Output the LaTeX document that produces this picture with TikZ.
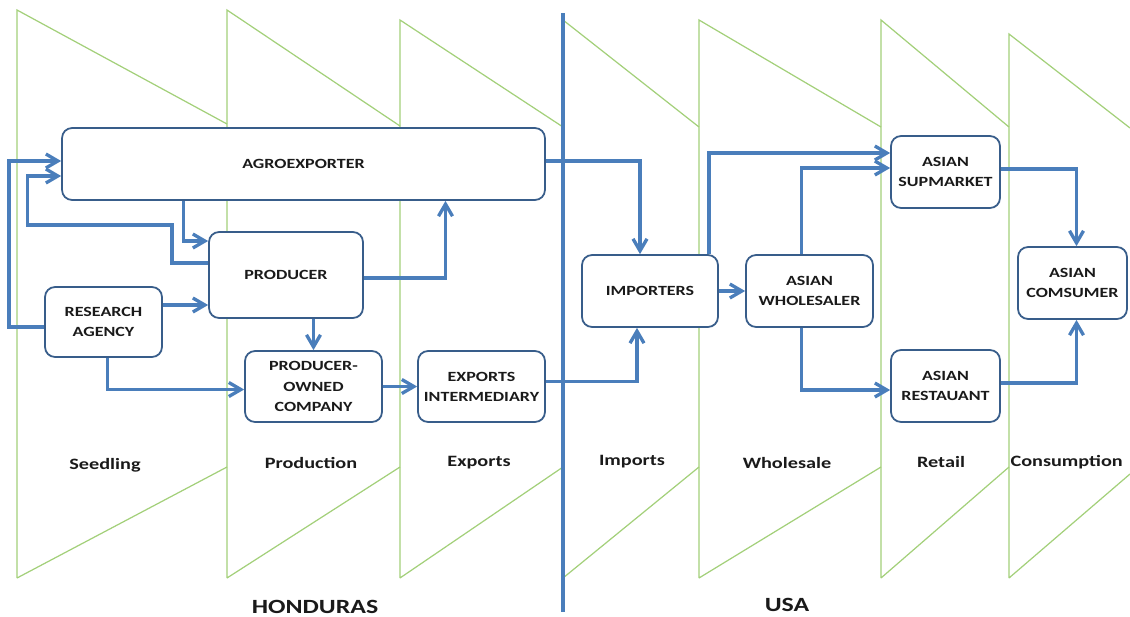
\documentclass[tikz,border=0pt]{standalone}
\usepackage{fontspec}
\setmainfont{Carlito}[FakeStretch=1.28]
\usepackage{tikz}
\usetikzlibrary{arrows.meta, positioning, calc}
\definecolor{Flow}{HTML}{4A7EBB}
\definecolor{Frame}{HTML}{385D8A}
\definecolor{Stage}{HTML}{A3D07A}
\definecolor{Ink}{HTML}{1A1A1A}

\begin{document}
\begin{tikzpicture}[
  x=0.02cm, y=-0.02cm,
  font=\bfseries,
  actor/.style={rounded corners=0.2cm, draw=Frame, line width=1pt, fill=white, align=center, text=Ink,
    font=\bfseries\fontsize{8}{11.5}\selectfont, minimum width=2.18cm, minimum height=1.44cm, inner sep=1pt},
  stage/.style={draw=Stage, line width=0.7pt},
  phase/.style={font=\bfseries\fontsize{9}{11}\selectfont, text=Ink},
  country/.style={font=\bfseries\fontsize{11.5}{13}\selectfont, text=Ink},
  arrow/.style={-{Straight Barb[length=2.4mm, width=2.8mm]}, line width=1.9pt, draw=Flow}
]
\useasboundingbox (0,0) rectangle (1130,616);

% value-chain stages
\foreach \xa/\ta/\xb/\tb/\bb in {17/10/227/124/467, 227/10/400/126/467, 400/20/563/127/467,
    563/20/699/127/467, 699/20/881/127/467, 881/20/1009/127/467, 1009/34/1130/128/474}
  \draw[stage] (\xa,578) -- (\xa,\ta) -- (\xb,\tb) (\xa,578) -- (\xb,\bb);

% border between countries
\draw[draw=Flow, line width=2.2pt] (563,13) coordinate (bordertop) -- (563,612) coordinate (borderbot);

\node[actor, minimum width=9.66cm] (agro) at (303.5,164) {AGROEXPORTER};
\node[actor, minimum width=3.08cm, minimum height=1.72cm] (producer) at (286,275) {PRODUCER};
\node[actor, minimum width=2.34cm, minimum height=1.40cm] (research) at (103.5,322) {RESEARCH\\AGENCY};
\node[actor, minimum width=2.74cm, minimum height=1.42cm] (owned) at (313.5,386.5) {PRODUCER-\\OWNED\\COMPANY};
\node[actor, minimum width=2.54cm, minimum height=1.42cm] (expint) at (481.5,386.5) {EXPORTS\\INTERMEDIARY};
\node[actor, minimum width=2.72cm] (importers) at (650,291) {IMPORTERS};
\node[actor, minimum width=2.54cm] (wholesaler) at (809.5,291) {ASIAN\\WHOLESALER};
\node[actor] (supmarket) at (945.5,172) {ASIAN\\SUPMARKET};
\node[actor] (consumer) at (1072.5,283) {ASIAN\\COMSUMER};
\node[actor] (restaurant) at (945.5,386) {ASIAN\\RESTAUANT};

\draw[arrow] ($(research.west)+(0,5)$) -- ++(-35,0) |- ($(agro.west)+(0,-3)$);
\draw[arrow] ($(producer.west)+(0,-12)$) -| ++(-36,-38) -| ($(agro.west)+(-34,12)$) -- ($(agro.west)+(0,12)$);
\draw[arrow] ($(agro.south)+(-120,0)$) |- ($(producer.west)+(0,-34)$);
\draw[arrow] ($(research.east)+(0,-17)$) -- ($(producer.west)+(0,30)$);
\draw[arrow] ($(research.south)+(4,0)$) |- ($(owned.west)+(0,3)$);
\draw[arrow] (producer.south -| owned.north) -- (owned.north);
\draw[arrow] ($(producer.east)+(0,3)$) -| ($(agro.south)+(142,0)$);
\draw[arrow] (owned) -- (expint);
\draw[arrow] ($(expint.east)+(0,-5)$) -| ($(importers.south)+(-13,0)$);
\draw[arrow] ($(agro.east)+(0,-3)$) -| ($(importers.north)+(-10,0)$);
\draw[arrow] (importers) -- (wholesaler);
\draw[arrow] ($(importers.north)+(59,0)$) |- ($(supmarket.west)+(0,-19)$);
\draw[arrow] ($(wholesaler.north)+(-8,0)$) |- ($(supmarket.west)+(0,-4)$);
\draw[arrow] ($(wholesaler.south)+(-8,0)$) |- ($(restaurant.west)+(0,4)$);
\draw[arrow] ($(supmarket.east)+(0,-3)$) -| ($(consumer.north)+(4,0)$);
\draw[arrow] ($(restaurant.east)+(0,-3)$) -| ($(consumer.south)+(4,0)$);

\node[phase] (seedling) at (105,465) {Seedling};
\node[phase] (production) at (311,463) {Production};
\node[phase] (exports) at (479,463) {Exports};
\node[phase] (imports) at (632,462) {Imports};
\node[phase] (wholesale) at (787,463) {Wholesale};
\node[phase] (retail) at (941,462) {Retail};
\node[phase, anchor=east] (consumption) at (1129,462) {Consumption};

\node[country] (honduras) at (315,607) {HONDURAS};
\node[country] (usa) at (787,605) {USA};
\end{tikzpicture}
\end{document}
